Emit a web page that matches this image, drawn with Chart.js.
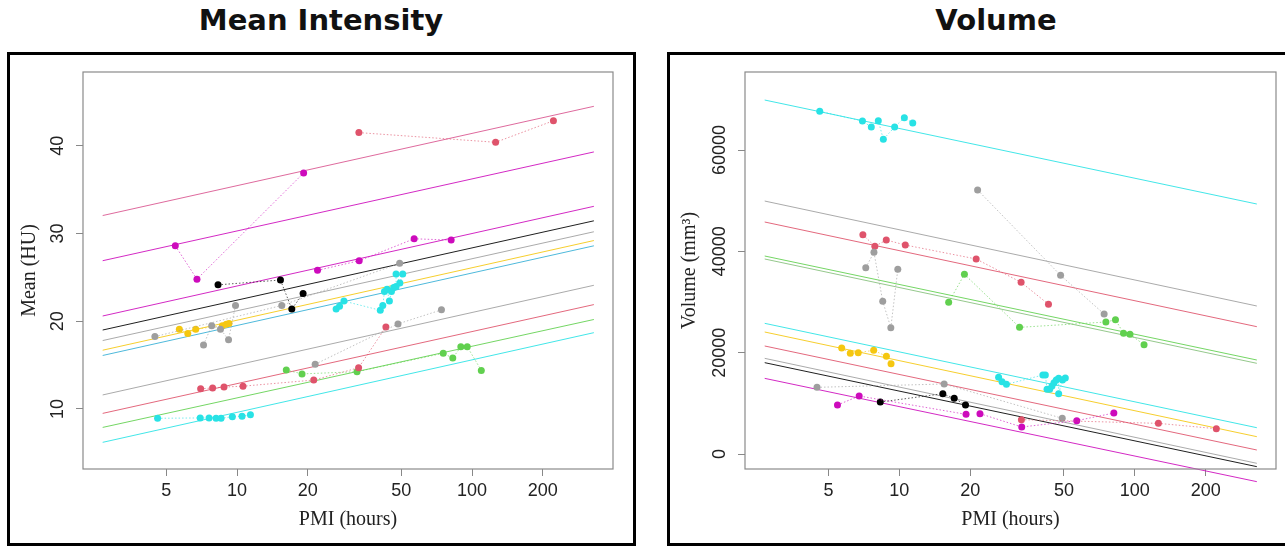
<!DOCTYPE html>
<html lang="en">

<head>
  <meta charset="UTF-8">
  <title>Mean Intensity / Volume vs PMI</title>
  <script src="https://cdn.jsdelivr.net/npm/chart.js"></script>
</head>

<style>
  body {
    margin: 0;
    width: 1285px;
    height: 546px;
    overflow: hidden;
    position: relative;
    background: #fff;
  }

  .panelTitle {
    position: absolute;
    top: -3px;
    height: 46px;
    line-height: 46px;
    text-align: center;
    font-family: 'DejaVu Sans', sans-serif;
    font-weight: 700;
    font-size: 29px;
    color: #111;
  }

  .frame {
    position: absolute;
    top: 52px;
    height: 488px;
    border: 3px solid #000;
  }

  .frame canvas {
    position: absolute;
    left: 0;
    top: 0;
  }
</style>

<body>
  <div class="panelTitle" style="left:0px; width:642px;">Mean Intensity</div>
  <div class="panelTitle" style="left:667px; width:658px;">Volume</div>

  <div class="frame" style="left:7px; width:623px;">
    <canvas id="meanChart" width="623" height="488"></canvas>
  </div>
  <div class="frame" style="left:667px; width:640px;">
    <canvas id="volChart" width="615" height="488"></canvas>
  </div>

  <script>
    //////////
    // DATA //
    //////////

    // x axis (log scale, hours)
    const pmiMin = 2.21;
    const pmiMax = 398;
    const pmiTicks = [5, 10, 20, 50, 100, 200];
    const fitSpan = [2.68, 330]; // PMI at both ends of the fitted lines

    const meanTicks = [10, 20, 30, 40];
    const volTicks = [0, 20000, 40000, 60000];

    // palette
    const colBlack = '#000000';
    const colRed = '#DF536B';
    const colGreen = '#61D04F';
    const colCyan = '#28E2E5';
    const colMagenta = '#CD0BBC';
    const colGold = '#F5C710';
    const colGray = '#9E9E9E';

    // subjects: PMI, mean HU, volume
    const pmiA = [33.0, 126, 222];
    const meanA = [41.5, 40.4, 42.85];
    const volA = [6780, 6050, 4990];

    const pmiB = [5.46, 6.75, 19.2];
    const meanB = [28.6, 24.8, 36.9];
    const volB = [9670, 11450, 7830];

    const pmiC = [22.0, 33.1, 56.7, 81.5];
    const meanC = [25.8, 26.9, 29.4, 29.25];
    const volC = [7960, 5330, 6580, 8090];

    const pmiD = [8.3, 15.3, 17.1, 19.1];
    const meanD = [24.15, 24.7, 21.4, 23.15];
    const volD = [10260, 11900, 10990, 9670];

    const pmiE1 = [4.47, 15.5, 49.2];
    const meanE1 = [18.25, 21.8, 26.6];
    const volE1 = [13160, 13820, 7040];

    const pmiE2 = [7.2, 7.8, 8.5, 9.2, 9.85];
    const meanE2 = [17.3, 19.5, 19.1, 17.9, 21.8];
    const volE2 = [36770, 39810, 30140, 24930, 36450];

    const pmiFmean = [5.68, 6.17, 6.67, 8.66, 9.0, 9.24];
    const meanF = [19.1, 18.6, 19.1, 19.5, 19.65, 19.75];
    const pmiFvol = [5.69, 6.19, 6.69, 7.78, 8.81, 9.22];
    const volF = [20920, 19870, 20000, 20470, 19280, 17820];

    const pmiG = [26.4, 27.3, 28.5, 40.7, 41.7, 42.4, 43.5, 44.5, 45.4, 46.4, 47.5, 47.5, 49.3, 50.7];
    const meanG = [21.4, 21.7, 22.3, 21.25, 21.8, 23.4, 23.65, 22.3, 23.4, 23.85, 23.95, 25.4, 24.35, 25.4];
    const volG = [15140, 14270, 13750, 15590, 15590, 12770, 12770, 13420, 14070, 14600, 14940, 11900, 14600, 15000];

    const pmiH = [21.5, 48.4, 74.1];
    const meanH = [15.1, 19.7, 21.3];
    const volH = [52110, 35270, 27630];

    const pmiI = [7.0, 7.87, 8.8, 10.6, 21.2, 32.9, 43.0];
    const meanI = [12.3, 12.4, 12.5, 12.6, 13.3, 14.7, 19.35];
    const volI = [43290, 40990, 42240, 41250, 38490, 33890, 29550];

    const pmiJ = [16.2, 18.9, 32.4, 75.4, 82.8, 89.6, 95.4, 109.5];
    const meanJ = [14.45, 14.0, 14.25, 16.35, 15.8, 17.1, 17.1, 14.4];
    const volJ = [29940, 35470, 25000, 26050, 26510, 23820, 23620, 21570];

    const pmiK = [4.59, 6.97, 7.6, 8.14, 8.55, 9.55, 10.5, 11.4];
    const meanK = [8.94, 8.98, 8.98, 8.94, 8.94, 9.12, 9.17, 9.35];
    const volK = [67640, 65720, 64540, 65790, 62110, 64540, 66380, 65330];

    // fitted (parallel) lines: value at fitSpan[0] and fitSpan[1]
    const meanFitStart = [32.05, 26.9, 20.6, 19.0, 17.8, 16.7, 16.1, 11.6, 9.5, 7.9, 6.2];
    const meanFitEnd = [44.5, 39.3, 33.1, 31.45, 30.2, 29.2, 28.6, 24.1, 21.9, 20.2, 18.7];
    const meanFitColors = ['#DA5590', colMagenta, colMagenta, colBlack, colGray, colGold, '#35AFD6', colGray, colRed, colGreen, colCyan];

    const volFitStart = [69870, 49930, 45790, 39080, 38490, 25790, 24080, 21320, 18880, 18030, 14930];
    const volFitEnd = [49340, 29210, 25130, 18550, 17900, 5190, 3420, 790, -1840, -2500, -5460];
    const volFitColors = [colCyan, colGray, colRed, colGreen, '#86C07C', colCyan, colGold, colRed, colGray, colBlack, colMagenta];

    ////////////
    // CHARTS //
    ////////////

    const meanGroups = [
      [pmiA, meanA, colRed], [pmiB, meanB, colMagenta], [pmiC, meanC, colMagenta],
      [pmiD, meanD, colBlack], [pmiE1, meanE1, colGray], [pmiE2, meanE2, colGray],
      [pmiFmean, meanF, colGold], [pmiG, meanG, colCyan], [pmiH, meanH, colGray],
      [pmiI, meanI, colRed], [pmiJ, meanJ, colGreen], [pmiK, meanK, colCyan]
    ];
    const volGroups = [
      [pmiA, volA, colRed], [pmiB, volB, colMagenta], [pmiC, volC, colMagenta],
      [pmiD, volD, colBlack], [pmiE1, volE1, colGray], [pmiE2, volE2, colGray],
      [pmiFvol, volF, colGold], [pmiG, volG, colCyan], [pmiH, volH, colGray],
      [pmiI, volI, colRed], [pmiJ, volJ, colGreen], [pmiK, volK, colCyan]
    ];

    function buildDatasets(groups, fitStart, fitEnd, fitColors) {
      var sets = [];
      groups.map(([xs, ys, color]) => {
        sets.push({
          data: xs.map((x, i) => ({ x: x, y: ys[i] })),
          showLine: true,
          borderColor: color + 'A0',
          borderWidth: 1,
          borderDash: [1.5, 2],
          pointRadius: 3.5,
          pointBorderWidth: 0,
          pointBackgroundColor: color
        });
      });
      fitStart.map((v, i) => {
        sets.push({
          data: [{ x: fitSpan[0], y: v }, { x: fitSpan[1], y: fitEnd[i] }],
          showLine: true,
          borderColor: fitColors[i] + 'E0',
          borderWidth: 1,
          pointRadius: 0,
          clip: false
        });
      });
      return sets;
    }

    // R style box + rotated y tick labels
    const rAxes = {
      id: 'rAxes',
      afterDraw(chart) {
        const { ctx, chartArea: a } = chart;
        const y = chart.scales.y;
        ctx.save();
        ctx.strokeStyle = '#8a8a8a';
        ctx.lineWidth = 1.2;
        ctx.strokeRect(a.left, a.top, a.right - a.left, a.bottom - a.top);
        ctx.fillStyle = '#222';
        ctx.font = '18px "Liberation Sans", Arial, sans-serif';
        ctx.textAlign = 'center';
        ctx.textBaseline = 'middle';
        y.ticks.map(t => {
          ctx.save();
          ctx.translate(a.left - 25, y.getPixelForValue(t.value));
          ctx.rotate(-Math.PI / 2);
          ctx.fillText(String(t.value), 0, 0);
          ctx.restore();
        });
        ctx.restore();
      }
    };

    function newChart(ctx, datasets, cfg) {
      return new Chart(ctx, {
        type: 'scatter',
        data: { datasets: datasets },
        plugins: [rAxes],
        options: {
          responsive: false,
          animation: false,
          layout: { padding: { left: 0, top: 17, right: cfg.padRight, bottom: 0 } },
          plugins: { legend: { display: false }, tooltip: { enabled: false } },
          scales: {
            x: {
              type: 'logarithmic',
              bounds: 'data',
              min: pmiMin,
              max: pmiMax,
              afterBuildTicks: axis => { axis.ticks = pmiTicks.map(v => ({ value: v })); },
              afterFit: axis => { axis.height = 74; },
              ticks: {
                autoSkip: false,
                maxRotation: 0,
                padding: 4,
                color: '#222',
                font: { family: '"Liberation Sans", Arial, sans-serif', size: 18 },
                callback: v => String(v)
              },
              grid: { drawOnChartArea: false, tickLength: 7, color: '#888' },
              border: { display: false },
              title: {
                display: true,
                text: 'PMI (hours)',
                color: '#222',
                font: { family: '"Liberation Serif", serif', size: 20 },
                padding: { top: 0, bottom: 11 }
              }
            },
            y: {
              bounds: 'data',
              min: cfg.yMin,
              max: cfg.yMax,
              afterBuildTicks: axis => { axis.ticks = cfg.yTicks.map(v => ({ value: v })); },
              afterFit: axis => { axis.width = cfg.yWidth; },
              ticks: { display: false },
              grid: { drawOnChartArea: false, tickLength: 7, color: '#888' },
              border: { display: false },
              title: {
                display: true,
                text: cfg.yTitle,
                color: '#222',
                font: { family: '"Liberation Serif", serif', size: 20 },
                padding: { top: 8, bottom: 0 }
              }
            }
          }
        }
      });
    }

    var meanChart = newChart(document.getElementById('meanChart'),
      buildDatasets(meanGroups, meanFitStart, meanFitEnd, meanFitColors),
      { yMin: 3.16, yMax: 48.41, yTicks: meanTicks, yWidth: 73, padRight: 20, yTitle: 'Mean (HU)' });

    var volChart = newChart(document.getElementById('volChart'),
      buildDatasets(volGroups, volFitStart, volFitEnd, volFitColors),
      { yMin: -2960, yMax: 75400, yTicks: volTicks, yWidth: 75, padRight: 9, yTitle: 'Volume (mm³)' });
  </script>
</body>

</html>
